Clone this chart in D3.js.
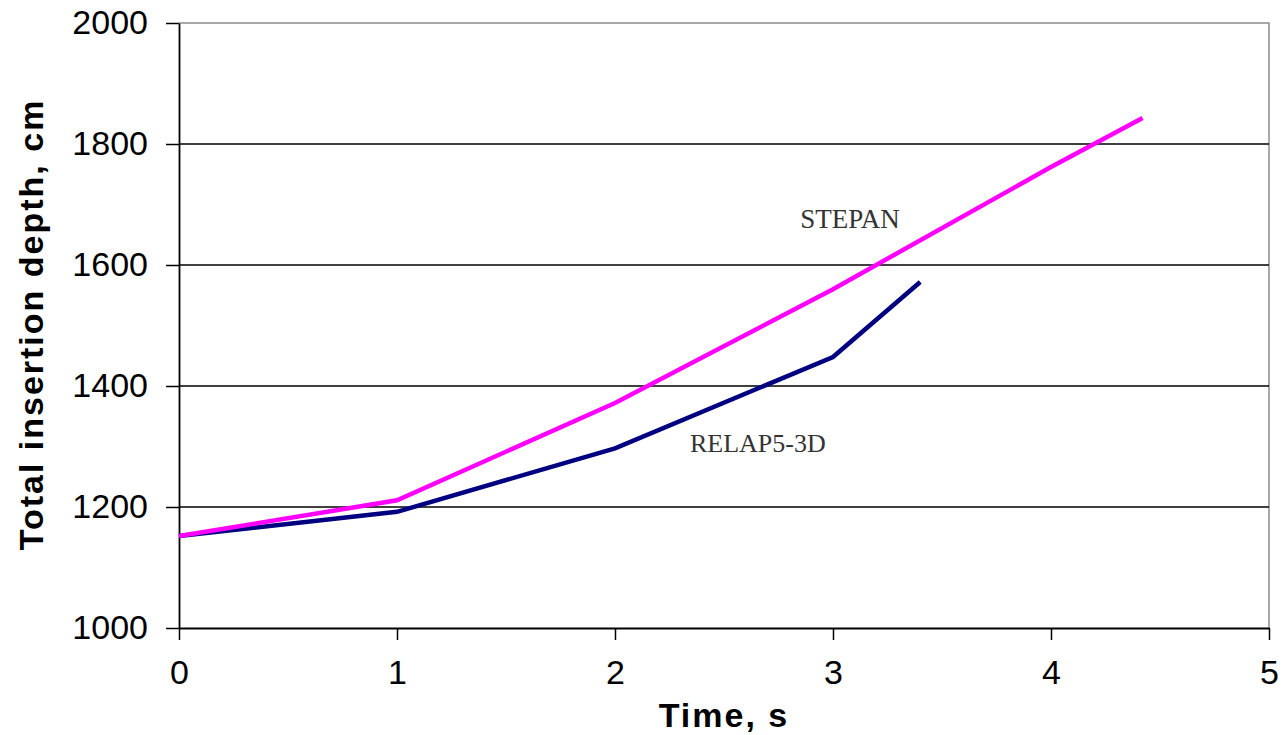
<!DOCTYPE html>
<html>
<head>
<meta charset="utf-8">
<script src="https://cdn.jsdelivr.net/npm/d3@7/dist/d3.min.js"></script>
<style>
  html, body { margin: 0; padding: 0; background: #fff; }
  svg { display: block; }
</style>
</head>
<body>
<svg id="chart" width="1285" height="735"></svg>
<script>
// Rod insertion depth over time for two codes
const stepanTime  = [0, 1, 2, 3, 4, 4.42];
const stepanDepth = [1152, 1211, 1372, 1560, 1762, 1843];

const relapTime  = [0, 1, 2, 3, 3.4];
const relapDepth = [1152, 1192, 1297, 1448, 1572];

const xTicks = [0, 1, 2, 3, 4, 5];
const yTicks = [1000, 1200, 1400, 1600, 1800, 2000];

const seriesLabels = ["STEPAN", "RELAP5-3D"];

const svg = d3.select("#chart");
const margin = { left: 179, top: 23, right: 1285 - 1269, bottom: 735 - 628 };
const W = 1285, H = 735;

const x = d3.scaleLinear().domain([0, 5]).range([margin.left, W - margin.right]);
const y = d3.scaleLinear().domain([1000, 2000]).range([H - margin.bottom, margin.top]);

// plot frame (top and right edges)
svg.append("path")
  .attr("d", `M${x(0)},${y(2000)}H${x(5)}V${y(1000)}`)
  .attr("fill", "none").attr("stroke", "#8c8c8c").attr("stroke-width", 1.5);

// horizontal gridlines
svg.append("g")
  .selectAll("line")
  .data(yTicks.filter(v => v > 1000 && v < 2000))
  .join("line")
  .attr("x1", x(0)).attr("x2", x(5))
  .attr("y1", d => y(d)).attr("y2", d => y(d))
  .attr("stroke", "#000").attr("stroke-width", 1.4);

const font = "Arial, 'Liberation Sans', Helvetica, sans-serif";

// axes
const xAxis = d3.axisBottom(x).tickValues(xTicks).tickFormat(d3.format("d"))
  .tickSizeInner(12).tickSizeOuter(0).tickPadding(20);
const yAxis = d3.axisLeft(y).tickValues(yTicks).tickFormat(d3.format("d"))
  .tickSizeInner(13).tickSizeOuter(0).tickPadding(18);

const gx = svg.append("g").attr("transform", `translate(0,${y(1000)})`).call(xAxis);
const gy = svg.append("g").attr("transform", `translate(${x(0)},0)`).call(yAxis);

[gx, gy].forEach(g => {
  g.select(".domain").attr("stroke", "#000").attr("stroke-width", 1.8);
  g.selectAll(".tick line").attr("stroke", "#000").attr("stroke-width", 1.5);
  g.selectAll(".tick text").attr("fill", "#000")
    .style("font-family", font).style("font-size", "34px");
});
gx.selectAll(".tick text").attr("dy", "0.72em");

// series lines
const line = d3.line().x(d => x(d[0])).y(d => y(d[1]));
const stepan = stepanTime.map((t, i) => [t, stepanDepth[i]]);
const relap = relapTime.map((t, i) => [t, relapDepth[i]]);

svg.append("path").datum(relap).attr("d", line)
  .attr("fill", "none").attr("stroke", "#000080").attr("stroke-width", 4.5)
  .attr("stroke-linejoin", "miter");
svg.append("path").datum(stepan).attr("d", line)
  .attr("fill", "none").attr("stroke", "#ff00ff").attr("stroke-width", 4.5)
  .attr("stroke-linejoin", "miter");

// series annotations
const serif = "'Liberation Serif', 'Times New Roman', serif";
svg.append("text").text(seriesLabels[0])
  .attr("x", x(2.85)).attr("y", y(1000) - (628 - 228))
  .attr("fill", "#333").style("font-family", serif).style("font-size", "27px");
svg.append("text").text(seriesLabels[1])
  .attr("x", x(2.344)).attr("y", y(1000) - (628 - 452))
  .attr("fill", "#333").style("font-family", serif).style("font-size", "26px");

// axis titles
svg.append("text").text("Time, s")
  .attr("x", (x(0) + x(5)) / 2).attr("y", 727)
  .attr("text-anchor", "middle")
  .style("font-family", font).style("font-size", "34px").style("font-weight", "bold")
  .style("letter-spacing", "2px");

svg.append("text").text("Total insertion depth, cm")
  .attr("transform", `translate(43,${(y(1000) + y(2000)) / 2 - 1}) rotate(-90)`)
  .attr("text-anchor", "middle")
  .style("font-family", font).style("font-size", "34px").style("font-weight", "bold")
  .style("letter-spacing", "2px");
</script>
</body>
</html>
